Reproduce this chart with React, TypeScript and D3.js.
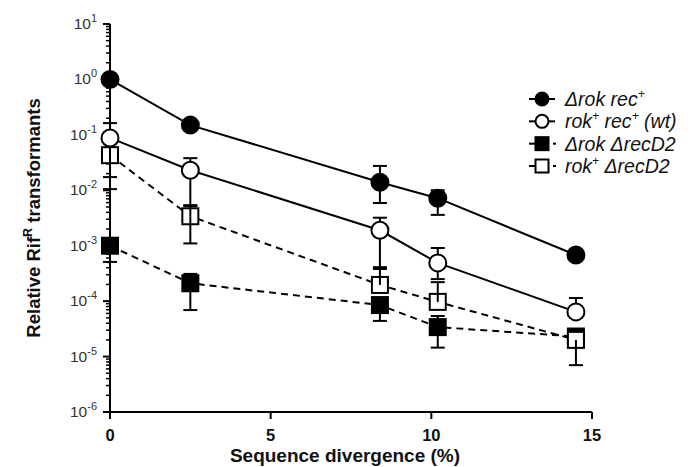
import React from "react";
import * as d3 from "d3";

// sequence divergence (%)
const divergence = [0, 2.5, 8.4, 10.2, 14.5];

// relative RifR transformants, with error bar ends (null = hidden / none)
const rokRec = [1.0, 0.15, 0.014, 0.0072, 0.00068];
const rokRecLow = [null, null, 0.0059, 0.0036, null];
const rokRecHigh = [null, null, 0.0275, 0.01, null];

const wt = [0.088, 0.023, 0.0019, 0.00049, 0.000064];
const wtLow = [0.0105, 0.0054, 0.00041, 0.00025, null];
const wtHigh = [0.163, 0.038, 0.0032, 0.00091, 0.000114];

const rokRecD2 = [0.001, 0.00021, 0.000085, 0.000034, 0.000023];
const rokRecD2Low = [0.00051, 0.000069, 0.000044, 0.0000145, null];
const rokRecD2High = [null, 0.00031, null, 0.000054, null];

const wtRecD2 = [0.043, 0.0034, 0.000196, 0.000097, 0.00002];
const wtRecD2Low = [0.0173, 0.0011, null, null, 0.000007];
const wtRecD2High = [null, 0.0052, 0.00038, 0.00022, null];

const yExponents = [1, 0, -1, -2, -3, -4, -5, -6];
const xTicks = [0, 5, 10, 15];

const series = [
  { key: "rokRec", values: rokRec, low: rokRecLow, high: rokRecHigh, shape: "circle", filled: true, dashed: false },
  { key: "wt", values: wt, low: wtLow, high: wtHigh, shape: "circle", filled: false, dashed: false },
  { key: "rokRecD2", values: rokRecD2, low: rokRecD2Low, high: rokRecD2High, shape: "square", filled: true, dashed: true },
  { key: "wtRecD2", values: wtRecD2, low: wtRecD2Low, high: wtRecD2High, shape: "square", filled: false, dashed: true },
];

// legend text pieces: [text, isSuperscript]
const legendLabels = {
  rokRec: [["Δrok rec", 0], ["+", 1]],
  wt: [["rok", 0], ["+", 1], [" rec", 0], ["+", 1], [" (wt)", 0]],
  rokRecD2: [["Δrok ΔrecD2", 0]],
  wtRecD2: [["rok", 0], ["+", 1], [" ΔrecD2", 0]],
};

const FONT = "'Liberation Sans', Arial, sans-serif";

const Marker = ({ cx, cy, shape, filled, size }) => {
  const fill = filled ? "#000" : "#fff";
  if (shape === "circle")
    return <circle cx={cx} cy={cy} r={size / 2} fill={fill} stroke="#000" strokeWidth={2} />;
  return (
    <rect x={cx - size / 2} y={cy - size / 2} width={size} height={size} fill={fill} stroke="#000" strokeWidth={2} />
  );
};

export default function App() {
  const width = 692;
  const height = 467;

  const x = d3.scaleLinear().domain([0, 15]).range([110, 592]);
  const y = d3.scaleLog().domain([1e-6, 10]).range([412, 24]);

  const minorTicks = [];
  for (let e = -6; e < 1; e++) {
    for (let k = 2; k <= 9; k++) minorTicks.push(k * Math.pow(10, e));
  }

  const line = d3
    .line<number>()
    .x((d, i) => x(divergence[i]))
    .y((d) => y(d));

  const byKey = (k) => series.find((s) => s.key === k);

  const errorBars = (s) =>
    s.values.map((v, i) => {
      const cx = x(divergence[i]);
      const parts = [];
      [s.low[i], s.high[i]].forEach((e, j) => {
        if (e == null) return;
        parts.push(
          <g key={j}>
            <line x1={cx} x2={cx} y1={y(v)} y2={y(e)} stroke="#000" strokeWidth={2} />
            <line x1={cx - 7} x2={cx + 7} y1={y(e)} y2={y(e)} stroke="#000" strokeWidth={2} />
          </g>
        );
      });
      return <g key={i}>{parts}</g>;
    });

  const markers = (s, size) =>
    s.values.map((v, i) => (
      <Marker key={i} cx={x(divergence[i])} cy={y(v)} shape={s.shape} filled={s.filled} size={size} />
    ));

  const legendY = d3.scaleLinear().domain([0, 3]).range([99, 166]);

  return (
    <svg width={width} height={height} style={{ position: "absolute", left: 0, top: 0 }} fontFamily={FONT}>
      <rect width={width} height={height} fill="#fff" />

      {/* connecting lines */}
      {series.map((s) => (
        <path
          key={s.key}
          d={line(s.values)}
          fill="none"
          stroke="#000"
          strokeWidth={2}
          strokeDasharray={s.dashed ? "7,5" : null}
        />
      ))}

      {/* axes */}
      <line x1={110} x2={110} y1={y(10)} y2={y(1e-6)} stroke="#000" strokeWidth={2} />
      <line x1={109} x2={x(15)} y1={y(1e-6)} y2={y(1e-6)} stroke="#000" strokeWidth={2} />
      {minorTicks.map((t, i) => (
        <line key={i} x1={106} x2={110} y1={y(t)} y2={y(t)} stroke="#000" strokeWidth={1.5} />
      ))}
      {yExponents.map((e) => (
        <g key={e}>
          <line x1={103} x2={110} y1={y(Math.pow(10, e))} y2={y(Math.pow(10, e))} stroke="#000" strokeWidth={2} />
          <text x={97} y={y(Math.pow(10, e)) + 5} textAnchor="end" fontSize={15.5} fill="#333">
            10<tspan dy={-7} fontSize={11}>{e}</tspan>
          </text>
        </g>
      ))}
      {xTicks.map((t) => (
        <g key={t}>
          <line x1={x(t)} x2={x(t)} y1={y(1e-6)} y2={y(1e-6) + 7} stroke="#000" strokeWidth={2} />
          <text x={x(t)} y={441} textAnchor="middle" fontSize={16.5} fontWeight="bold" fill="#111">
            {t}
          </text>
        </g>
      ))}
      <text x={345} y={462} textAnchor="middle" fontSize={19} fontWeight="bold" fill="#111">
        Sequence divergence (%)
      </text>
      <text
        transform="translate(40,218) rotate(-90)"
        textAnchor="middle"
        fontSize={18.5}
        fontWeight="bold"
        fill="#111"
      >
        Relative Rif<tspan dy={-8} fontSize={12.5}>R</tspan>
        <tspan dy={8}> transformants</tspan>
      </text>

      {/* square markers sit under the error bars, circles on top */}
      <g>{markers(byKey("rokRecD2"), 16)}</g>
      <g>{markers(byKey("wtRecD2"), 16)}</g>
      {series.map((s) => (
        <g key={s.key}>{errorBars(s)}</g>
      ))}
      <g>{markers(byKey("wt"), 17)}</g>
      <g>{markers(byKey("rokRec"), 17)}</g>

      {/* legend */}
      {series.map((s, i) => {
        const ly = legendY(i);
        const label = legendLabels[s.key];
        return (
          <g key={s.key}>
            <line x1={529} x2={s.dashed ? 549 : 555} y1={ly} y2={ly} stroke="#000" strokeWidth={2} />
            {s.dashed && <line x1={553} x2={556} y1={ly} y2={ly} stroke="#000" strokeWidth={2} />}
            <Marker cx={542} cy={ly} shape={s.shape} filled={s.filled} size={13} />
            <text x={565} y={ly + 7} fontSize={19.5} fontStyle="italic" fill="#111">
              {label.map(([t, sup], j) => (
                <tspan key={j} fontSize={sup ? 12 : 19.5} dy={sup ? -8 : j > 0 && label[j - 1][1] ? 8 : 0}>
                  {t}
                </tspan>
              ))}
            </text>
          </g>
        );
      })}
    </svg>
  );
}
